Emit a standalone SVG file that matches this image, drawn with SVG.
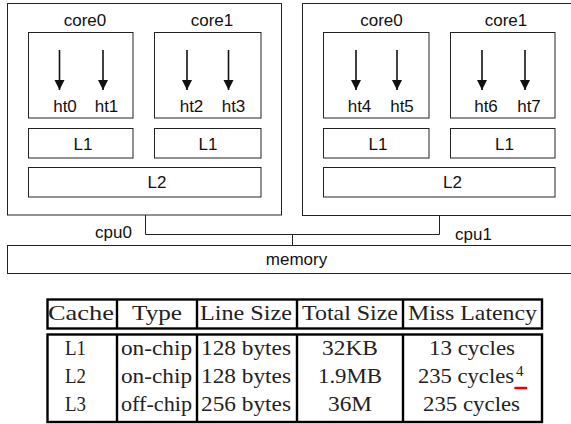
<svg xmlns="http://www.w3.org/2000/svg" width="571" height="424" viewBox="0 0 571 424">
<defs>
<style>
.bx{fill:none;stroke:#222;stroke-width:1}
.ar{stroke:#111;stroke-width:1.6}
.dt{font-family:"Liberation Sans",Arial,sans-serif;font-size:17px;fill:#111;text-anchor:middle}
.tb{fill:none;stroke:#000;stroke-width:2.4}
.tt{font-family:"Liberation Serif","Times New Roman",serif;font-size:22px;fill:#222;text-anchor:middle}
</style>
<marker id="hd" markerWidth="10" markerHeight="11" refX="10" refY="5" orient="auto" markerUnits="userSpaceOnUse" viewBox="0 0 10 10">
<path d="M0,0 L10,5 L0,10 Z" fill="#111"/>
</marker>
</defs>
<rect width="571" height="424" fill="#fff"/>

<g id="cpu0">
<rect class="bx" x="7.5" y="3.5" width="274" height="211.5"/>
<text class="dt" x="113.5" y="238">cpu0</text>
</g>
<g id="cpu0-core0">
<rect class="bx" x="28.5" y="32.5" width="104.5" height="85.5"/>
<text class="dt" x="85" y="26">core0</text>
<text class="dt" x="65" y="112">ht0</text>
<text class="dt" x="106.5" y="112">ht1</text>
</g>
<g id="cpu0-core1">
<rect class="bx" x="154.5" y="32.5" width="106.5" height="85.5"/>
<text class="dt" x="212" y="26">core1</text>
<text class="dt" x="191.5" y="112">ht2</text>
<text class="dt" x="233.5" y="112">ht3</text>
</g>
<g id="cpu0-l1a"><rect class="bx" x="28.5" y="128.5" width="104.5" height="29.5"/><text class="dt" x="83" y="150">L1</text></g>
<g id="cpu0-l1b"><rect class="bx" x="154.5" y="128.5" width="106.5" height="29.5"/><text class="dt" x="208" y="150">L1</text></g>
<g id="cpu0-l2"><rect class="bx" x="28.5" y="167.5" width="232.5" height="29.5"/><text class="dt" x="157" y="188">L2</text></g>

<g id="cpu1">
<rect class="bx" x="302.5" y="3.5" width="275" height="212"/>
<text class="dt" x="473.5" y="240">cpu1</text>
</g>
<g id="cpu1-core0">
<rect class="bx" x="323.5" y="32.5" width="105.5" height="85.5"/>
<text class="dt" x="381.5" y="26">core0</text>
<text class="dt" x="359.5" y="112">ht4</text>
<text class="dt" x="402" y="112">ht5</text>
</g>
<g id="cpu1-core1">
<rect class="bx" x="450.5" y="32.5" width="104.5" height="85.5"/>
<text class="dt" x="506" y="26">core1</text>
<text class="dt" x="486" y="112">ht6</text>
<text class="dt" x="529" y="112">ht7</text>
</g>
<g id="cpu1-l1a"><rect class="bx" x="323.5" y="128.5" width="105.5" height="29.5"/><text class="dt" x="378" y="150">L1</text></g>
<g id="cpu1-l1b"><rect class="bx" x="450.5" y="128.5" width="104.5" height="29.5"/><text class="dt" x="504.5" y="150">L1</text></g>
<g id="cpu1-l2"><rect class="bx" x="323.5" y="167.5" width="231.5" height="29.5"/><text class="dt" x="452.5" y="188">L2</text></g>

<g id="memory">
<rect class="bx" x="7.5" y="245.5" width="570" height="28"/>
<text class="dt" x="296.5" y="265">memory</text>
</g>

<g id="connectors">
<line class="ar" x1="59.5" y1="50" x2="59.5" y2="90" marker-end="url(#hd)"/>
<line class="ar" x1="103" y1="50" x2="103" y2="90" marker-end="url(#hd)"/>
<line class="ar" x1="187" y1="50" x2="187" y2="90" marker-end="url(#hd)"/>
<line class="ar" x1="228.5" y1="50" x2="228.5" y2="90" marker-end="url(#hd)"/>
<line class="ar" x1="356" y1="50" x2="356" y2="90" marker-end="url(#hd)"/>
<line class="ar" x1="397" y1="50" x2="397" y2="90" marker-end="url(#hd)"/>
<line class="ar" x1="482" y1="50" x2="482" y2="90" marker-end="url(#hd)"/>
<line class="ar" x1="525" y1="50" x2="525" y2="90" marker-end="url(#hd)"/>
<polyline class="bx" points="145.5,215 145.5,234.5 439.5,234.5 439.5,216"/>
<line class="bx" x1="292.5" y1="234.5" x2="292.5" y2="245.5"/>
</g>

<g id="table">
<rect class="tb" x="47.5" y="299.5" width="494.5" height="29"/>
<line class="tb" x1="117" y1="299.5" x2="117" y2="328.5"/>
<line class="tb" x1="197" y1="299.5" x2="197" y2="328.5"/>
<line class="tb" x1="297" y1="299.5" x2="297" y2="328.5"/>
<line class="tb" x1="403" y1="299.5" x2="403" y2="328.5"/>
<rect class="tb" x="47.5" y="334.5" width="494.5" height="87.5"/>
<line class="tb" x1="117" y1="334.5" x2="117" y2="422"/>
<line class="tb" x1="197" y1="334.5" x2="197" y2="422"/>
<line class="tb" x1="297" y1="334.5" x2="297" y2="422"/>
<line class="tb" x1="403" y1="334.5" x2="403" y2="422"/>

<text class="tt" x="81" y="320" textLength="66" lengthAdjust="spacingAndGlyphs">Cache</text>
<text class="tt" x="157" y="320" textLength="50" lengthAdjust="spacingAndGlyphs">Type</text>
<text class="tt" x="246" y="320" textLength="92" lengthAdjust="spacingAndGlyphs">Line Size</text>
<text class="tt" x="350" y="320" textLength="96" lengthAdjust="spacingAndGlyphs">Total Size</text>
<text class="tt" x="472.5" y="320" textLength="129" lengthAdjust="spacingAndGlyphs">Miss Latency</text>

<text class="tt" x="75.5" y="355" textLength="21" lengthAdjust="spacingAndGlyphs">L1</text>
<text class="tt" x="75.5" y="383" textLength="21" lengthAdjust="spacingAndGlyphs">L2</text>
<text class="tt" x="75.5" y="411" textLength="21" lengthAdjust="spacingAndGlyphs">L3</text>

<text class="tt" x="156.5" y="355" textLength="71" lengthAdjust="spacingAndGlyphs">on-chip</text>
<text class="tt" x="156.5" y="383" textLength="71" lengthAdjust="spacingAndGlyphs">on-chip</text>
<text class="tt" x="156.5" y="411" textLength="71" lengthAdjust="spacingAndGlyphs">off-chip</text>

<text class="tt" x="246" y="355" textLength="90" lengthAdjust="spacingAndGlyphs">128 bytes</text>
<text class="tt" x="246" y="383" textLength="90" lengthAdjust="spacingAndGlyphs">128 bytes</text>
<text class="tt" x="246" y="411" textLength="90" lengthAdjust="spacingAndGlyphs">256 bytes</text>

<text class="tt" x="350" y="355" textLength="56" lengthAdjust="spacingAndGlyphs">32KB</text>
<text class="tt" x="350" y="383" textLength="64" lengthAdjust="spacingAndGlyphs">1.9MB</text>
<text class="tt" x="350" y="411" textLength="44" lengthAdjust="spacingAndGlyphs">36M</text>

<text class="tt" x="472" y="355" textLength="86" lengthAdjust="spacingAndGlyphs">13 cycles</text>
<text class="tt" x="418" y="383" style="text-anchor:start" textLength="96" lengthAdjust="spacingAndGlyphs">235 cycles</text>
<text x="516" y="376" style="font-family:'Liberation Serif','Times New Roman',serif;font-size:15px;fill:#222">4</text>
<line x1="515.5" y1="388" x2="526" y2="388" stroke="#e00" stroke-width="2.6" stroke-linecap="round"/>
<text class="tt" x="471.5" y="411" textLength="97" lengthAdjust="spacingAndGlyphs">235 cycles</text>
</g>
</svg>
